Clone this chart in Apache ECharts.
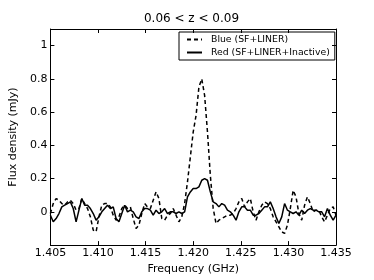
<!DOCTYPE html>
<html><head><meta charset="utf-8">
<script src="https://cdn.jsdelivr.net/npm/echarts@6/dist/echarts.min.js"></script>
<style>html,body{margin:0;padding:0;background:#fff}#c{width:374px;height:280px}</style>
</head><body><div id="c"></div>
<script>
var titleText = '0.06 < z < 0.09';
var xName = 'Frequency (GHz)';
var yName = 'Flux density (mJy)';
var seriesNames = ['Blue (SF+LINER)', 'Red (SF+LINER+Inactive)'];
var xTicks = [1.405, 1.410, 1.415, 1.420, 1.425, 1.430, 1.435];
var yTickLabels = [0, 0.2, 0.4, 0.6, 0.8, 1];

var freq = [1.4050,1.4053,1.4056,1.4059,1.4062,1.4065,1.4068,1.4071,1.4074,1.4077,
1.4080,1.4083,1.4086,1.4089,1.4092,1.4095,1.4098,1.4101,1.4104,1.4107,
1.4110,1.4113,1.4116,1.4119,1.4122,1.4125,1.4128,1.4131,1.4134,1.4137,
1.4140,1.4143,1.4146,1.4149,1.4152,1.4155,1.4158,1.4161,1.4164,1.4167,
1.4170,1.4173,1.4176,1.4179,1.4182,1.4185,1.4188,1.4191,1.4194,1.4197,
1.4200,1.4203,1.4206,1.4209,1.4212,1.4215,1.4218,1.4221,1.4224,1.4227,
1.4230,1.4233,1.4236,1.4239,1.4242,1.4245,1.4248,1.4251,1.4254,1.4257,
1.4260,1.4263,1.4266,1.4269,1.4272,1.4275,1.4278,1.4281,1.4284,1.4287,
1.4290,1.4293,1.4296,1.4299,1.4302,1.4305,1.4308,1.4311,1.4314,1.4317,
1.4320,1.4323,1.4326,1.4329,1.4332,1.4335,1.4338,1.4341,1.4344,1.4347,
1.4350];

var blue = [-0.01,0.05,0.08,0.07,0.05,0.04,0.06,0.07,0.05,0.01,
0.02,0.08,0.05,0.02,-0.03,-0.11,-0.12,-0.03,0.04,0.05,
0.05,0.03,-0.02,-0.05,-0.03,0.02,0.04,0.02,0.03,-0.04,
-0.10,-0.08,-0.01,0.05,0.03,0.02,0.07,0.12,0.08,-0.04,
-0.05,-0.02,-0.01,0.02,-0.02,-0.06,-0.03,0.05,0.18,0.33,
0.48,0.58,0.75,0.80,0.70,0.48,0.22,0.02,-0.07,-0.05,
-0.04,-0.03,-0.02,-0.02,-0.01,0.02,0.06,0.08,0.03,0.06,
0.08,0.00,-0.05,0.00,0.04,0.06,0.05,0.02,-0.03,-0.06,
-0.09,-0.12,-0.13,-0.08,0.02,0.13,0.09,-0.01,-0.05,0.04,
0.09,0.05,0.00,0.01,0.01,-0.03,-0.06,-0.02,0.02,0.03,
-0.02];

var red = [-0.02,-0.06,-0.04,-0.01,0.03,0.04,0.05,0.06,0.02,-0.06,
0.01,0.08,0.04,0.04,0.02,-0.01,-0.05,-0.03,0.00,0.02,
0.04,0.02,0.03,-0.04,-0.06,-0.01,0.04,0.00,0.01,0.00,
-0.03,-0.04,0.00,0.02,0.02,0.01,-0.02,0.01,-0.01,0.00,
0.02,-0.01,0.00,0.00,-0.01,0.00,-0.01,0.00,0.09,0.12,
0.14,0.14,0.15,0.19,0.20,0.19,0.12,0.06,0.05,0.03,
0.05,0.04,0.01,0.00,-0.02,-0.05,0.00,0.03,0.03,0.01,
0.01,-0.02,-0.02,-0.01,0.01,0.03,0.03,0.06,0.02,-0.03,
-0.07,-0.03,0.05,0.01,0.00,-0.01,0.00,-0.02,0.01,-0.01,
0.01,0.02,0.01,0.01,0.00,0.00,-0.03,0.02,-0.02,-0.05,
-0.02];

function pairs(xs, ys){ return xs.map(function(x,i){ return [x, ys[i]]; }); }

var font = 'DejaVu Sans';
var chart = echarts.init(document.getElementById('c'), null, {renderer:'canvas'});
var axisLineStyle = {show:true, onZero:false, lineStyle:{color:'#000', width:1}};
var tick = {show:true, inside:true, length:4, lineStyle:{color:'#000', width:1}};
function yFmt(v){
  for (var i=0;i<yTickLabels.length;i++){ if (Math.abs(v-yTickLabels[i])<1e-6) return String(yTickLabels[i]); }
  return '';
}
chart.setOption({
  animation:false,
  backgroundColor:'#fff',
  title:{text:titleText, left:191.5, top:13, padding:0, textAlign:'center',
    textStyle:{fontFamily:font, fontSize:12, fontWeight:'normal', color:'#000'}},
  legend:{orient:'vertical', left:179, top:32, padding:[3,5,3,7], itemGap:4,
    itemWidth:15, itemHeight:9, borderColor:'#000', borderWidth:1,
    data:seriesNames, itemStyle:{opacity:0},
    textStyle:{fontFamily:font, fontSize:9.3, color:'#000', padding:[0,0,0,4]}},
  grid:{left:47, right:38, top:29, bottom:29},
  xAxis:[{type:'value', min:1.405, max:1.435, interval:0.005, position:'bottom',
    axisLine:axisLineStyle, axisTick:tick, splitLine:{show:false},
    axisLabel:{fontFamily:font, fontSize:11, color:'#000', margin:3,
      formatter:function(v){ return v.toFixed(3); }},
    name:xName, nameLocation:'middle', nameGap:14,
    nameTextStyle:{fontFamily:font, fontSize:11, color:'#000'}},
   {type:'value', min:1.405, max:1.435, interval:0.005, position:'top',
    axisLine:axisLineStyle, axisTick:tick, splitLine:{show:false}, axisLabel:{show:false}}],
  yAxis:[{type:'value', min:-0.2, max:1.1, interval:0.2, position:'left',
    axisLine:axisLineStyle, axisTick:tick, splitLine:{show:false},
    axisLabel:{fontFamily:font, fontSize:11, color:'#000', margin:3, formatter:yFmt},
    name:yName, nameLocation:'middle', nameGap:25,
    nameTextStyle:{fontFamily:font, fontSize:11, color:'#000'}},
   {type:'value', min:-0.2, max:1.1, interval:0.2, position:'right',
    axisLine:axisLineStyle, axisTick:tick, splitLine:{show:false}, axisLabel:{show:false}}],
  series:[
    {name:seriesNames[0], type:'line', symbol:'none', data:pairs(freq, blue),
     lineStyle:{color:'#000', width:1.5, type:[4,3]}, itemStyle:{color:'#000'}},
    {name:seriesNames[1], type:'line', symbol:'none', data:pairs(freq, red),
     lineStyle:{color:'#000', width:1.5, type:'solid'}, itemStyle:{color:'#000'}}
  ]
});
</script></body></html>
